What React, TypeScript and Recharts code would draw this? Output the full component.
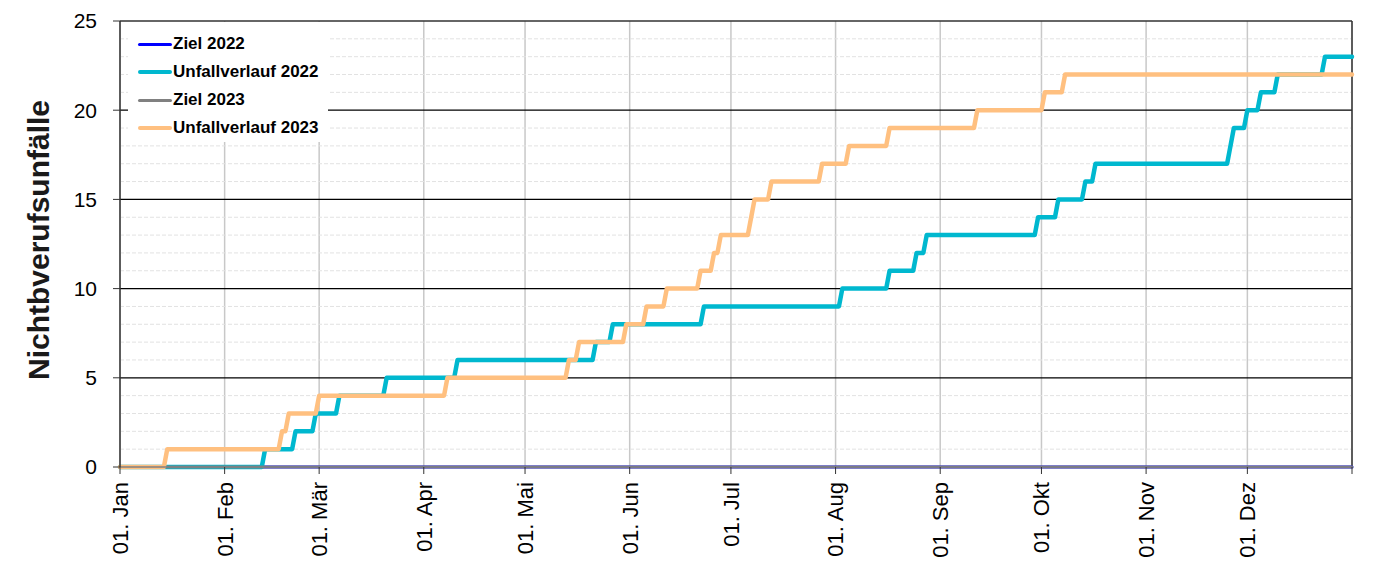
import { LineChart, Line, XAxis, YAxis, CartesianGrid, ReferenceLine, Legend } from "recharts";

// day of year (0 = 01. Jan) on which the cumulative count goes up by one
const unfall2022Days = [43, 52, 58, 65, 79, 100, 141, 146, 173, 214, 228, 236, 239, 272, 278, 286, 289, 329, 330, 334, 338, 343, 357];
const unfall2023Days = [14, 48, 50, 59, 97, 133, 136, 150, 156, 162, 172, 176, 178, 187, 188, 193, 208, 216, 228, 254, 274, 280];
const ziel2022 = 0;
const ziel2023 = 0;

const monthTicks = [0, 31, 59, 90, 120, 151, 181, 212, 243, 273, 304, 334];
const monthLabels = ["01. Jan", "01. Feb", "01. Mär", "01. Apr", "01. Mai", "01. Jun", "01. Jul", "01. Aug", "01. Sep", "01. Okt", "01. Nov", "01. Dez"];
const yTicks = [0, 5, 10, 15, 20, 25];
const minorY = [1, 2, 3, 4, 6, 7, 8, 9, 11, 12, 13, 14, 16, 17, 18, 19, 21, 22, 23, 24];
const majorY = [5, 10, 15, 20];
const lastDay = 365;

const series = [
  { key: "ziel2022", name: "Ziel 2022", color: "#0000ff", width: 3 },
  { key: "unfall2022", name: "Unfallverlauf 2022", color: "#00b8cf", width: 4.5 },
  { key: "ziel2023", name: "Ziel 2023", color: "#808080", width: 3 },
  { key: "unfall2023", name: "Unfallverlauf 2023", color: "#ffc080", width: 4.5 },
];

const data: any[] = [];
for (let d = 0; d <= lastDay; d++) {
  data.push({
    day: d,
    ziel2022,
    ziel2023,
    unfall2022: unfall2022Days.filter((e) => e <= d).length,
    unfall2023: unfall2023Days.filter((e) => e <= d).length,
  });
}

const FONT = "'Liberation Sans', Arial, sans-serif";

function XTick({ x, y, payload }: any) {
  const i = monthTicks.indexOf(payload.value);
  if (i < 0) return null;
  return (
    <text x={x} y={y} dy="0.36em" transform={`rotate(-90, ${x}, ${y})`} textAnchor="end" fontSize={22} fontFamily={FONT} fill="#000">
      {monthLabels[i]}
    </text>
  );
}

function YTitle({ viewBox }: any) {
  const cx = viewBox.x + 38;
  const cy = 240;
  return (
    <text x={cx} y={cy} dy="0.36em" transform={`rotate(-90, ${cx}, ${cy})`} textAnchor="middle" fontSize={30} fontWeight="bold" fontFamily={FONT} fill="#1a1a1a">
      Nichtbverufsunfälle
    </text>
  );
}

function LegendBox() {
  return (
    <div style={{ background: "#fff", width: 200, height: 120, paddingTop: 8, boxSizing: "border-box" }}>
      {series.map((s) => (
        <div key={s.key} style={{ display: "flex", alignItems: "center", height: 28 }}>
          <div style={{ width: 34, height: s.width, background: s.color, borderRadius: 2, marginLeft: 10 }} />
          <span style={{ fontFamily: FONT, fontWeight: "bold", fontSize: 17, color: "#000", marginLeft: 1 }}>{s.name}</span>
        </div>
      ))}
    </div>
  );
}

export default function App() {
  return (
    <div style={{ width: 1383, height: 565, position: "relative" }}>
      <style>{"body{margin:0}"}</style>
      <LineChart width={1383} height={565} data={data} margin={{ top: 21, right: 31, bottom: 0, left: 0 }}>
        <CartesianGrid horizontal={false} stroke="#c8c8c8" strokeWidth={1.5} />
        {minorY.map((v) => (
          <ReferenceLine key={"m" + v} y={v} stroke="#e2e2e2" strokeDasharray="4 2" strokeWidth={1} />
        ))}
        {majorY.map((v) => (
          <ReferenceLine key={"M" + v} y={v} stroke="#000" strokeWidth={1.2} />
        ))}
        <ReferenceLine y={25} stroke="#333" strokeWidth={1.5} />
        <ReferenceLine x={lastDay} stroke="#333" strokeWidth={1.5} />
        <XAxis
          dataKey="day"
          type="number"
          domain={[0, lastDay]}
          ticks={[...monthTicks, lastDay]}
          interval={0}
          height={98}
          tickSize={7}
          tickMargin={8}
          tick={<XTick />}
          axisLine={{ stroke: "#808080", strokeWidth: 1.5 }}
          tickLine={{ stroke: "#333" }}
        />
        <YAxis
          type="number"
          domain={[0, 25]}
          ticks={yTicks}
          width={120}
          tickSize={7}
          tickMargin={16}
          tick={{ fontSize: 21, fill: "#000", fontFamily: FONT }}
          axisLine={{ stroke: "#333", strokeWidth: 1.5 }}
          tickLine={{ stroke: "#333" }}
          label={<YTitle />}
        />
        <Legend
          layout="vertical"
          align="center"
          verticalAlign="middle"
          content={<LegendBox />}
          wrapperStyle={{ left: 128, top: 22, width: 200, height: 120 }}
        />
        {series.map((s) => (
          <Line
            key={s.key}
            type="linear"
            dataKey={s.key}
            name={s.name}
            stroke={s.color}
            strokeWidth={s.width}
            strokeOpacity={s.key === "ziel2023" ? 0.85 : 1}
            strokeLinejoin="round"
            strokeLinecap="round"
            dot={false}
            activeDot={false}
            isAnimationActive={false}
          />
        ))}
      </LineChart>
    </div>
  );
}
